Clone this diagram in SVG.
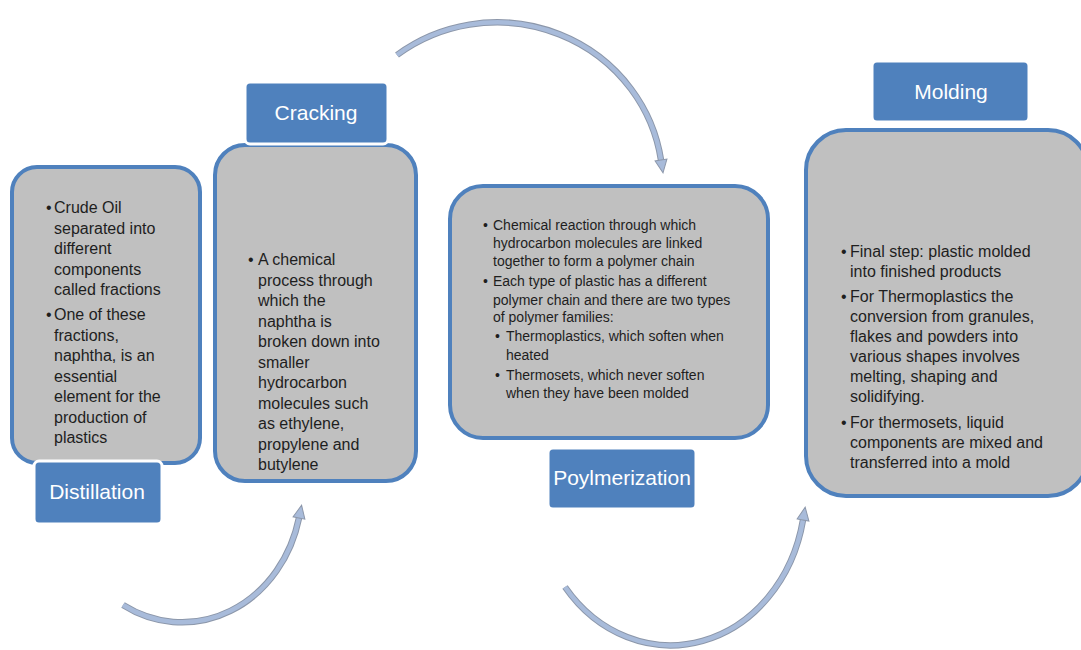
<svg xmlns="http://www.w3.org/2000/svg" width="1081" height="650" viewBox="0 0 1081 650">
<defs>
<style>
.body{fill:#C0C0C0;stroke:#4F81BD;stroke-width:4}
.lbl{fill:#4F81BD;stroke:#FFFFFF;stroke-width:3}
.lt{font-family:"Liberation Sans",Arial,sans-serif;font-size:21px;fill:#FFFFFF;text-anchor:middle}
.bt{font-family:"Liberation Sans",Arial,sans-serif;font-size:16px;fill:#1E1E1E}
.st{font-family:"Liberation Sans",Arial,sans-serif;font-size:14px;fill:#1E1E1E}
.aout{fill:none;stroke:#8C97AA;stroke-width:6.5}
.ain{fill:none;stroke:#A8BBDA;stroke-width:4.5}
</style>
<marker id="ah" markerUnits="userSpaceOnUse" markerWidth="16" markerHeight="16" refX="1" refY="7" orient="auto" viewBox="0 0 16 14">
<path d="M1,1 L14,7 L1,13 Z" fill="#A8BBDA" stroke="#8C97AA" stroke-width="1"/>
</marker>
</defs>
<rect width="1081" height="650" fill="#FFFFFF"/>

<g id="connectors">
<path class="aout" d="M123,605 A120,134 0 0 0 299,518"/>
<path class="ain" d="M123,605 A120,134 0 0 0 299,518" marker-end="url(#ah)"/>
<path class="aout" d="M397,55 A166,162 0 0 1 661,160"/>
<path class="ain" d="M397,55 A166,162 0 0 1 661,160" marker-end="url(#ah)"/>
<path class="aout" d="M565,587 A135,155 0 0 0 803,520"/>
<path class="ain" d="M565,587 A135,155 0 0 0 803,520" marker-end="url(#ah)"/>
</g>

<g id="distillation">
<rect class="body" x="12" y="167" width="188" height="296" rx="25"/>
<text class="bt" x="46" y="213">•</text>
<text class="bt" x="54" y="213">Crude Oil</text>
<text class="bt" x="54" y="233.5">separated into</text>
<text class="bt" x="54" y="254">different</text>
<text class="bt" x="54" y="274.5">components</text>
<text class="bt" x="54" y="295">called fractions</text>
<text class="bt" x="46" y="320">•</text>
<text class="bt" x="54" y="320">One of these</text>
<text class="bt" x="54" y="340.5">fractions,</text>
<text class="bt" x="54" y="361">naphtha, is an</text>
<text class="bt" x="54" y="381.5">essential</text>
<text class="bt" x="54" y="402">element for the</text>
<text class="bt" x="54" y="422.5">production of</text>
<text class="bt" x="54" y="443">plastics</text>
<rect class="lbl" x="34" y="461" width="128" height="63" rx="5"/>
<text class="lt" x="97" y="499">Distillation</text>
</g>

<g id="cracking">
<rect class="body" x="215" y="145" width="201" height="336" rx="30"/>
<text class="bt" x="248" y="265">•</text>
<text class="bt" x="258" y="265">A chemical</text>
<text class="bt" x="258" y="285.5">process through</text>
<text class="bt" x="258" y="306">which the</text>
<text class="bt" x="258" y="326.5">naphtha is</text>
<text class="bt" x="258" y="347">broken down into</text>
<text class="bt" x="258" y="367.5">smaller</text>
<text class="bt" x="258" y="388">hydrocarbon</text>
<text class="bt" x="258" y="408.5">molecules such</text>
<text class="bt" x="258" y="429">as ethylene,</text>
<text class="bt" x="258" y="449.5">propylene and</text>
<text class="bt" x="258" y="470">butylene</text>
<rect class="lbl" x="245" y="82" width="143" height="62" rx="5"/>
<text class="lt" x="316" y="120">Cracking</text>
</g>

<g id="polymerization">
<rect class="body" x="450" y="186" width="318" height="252" rx="33"/>
<text class="st" x="483" y="229.5">•</text>
<text class="st" x="493" y="229.5">Chemical reaction through which</text>
<text class="st" x="493" y="247.5">hydrocarbon molecules are linked</text>
<text class="st" x="493" y="266">together to form a polymer chain</text>
<text class="st" x="483" y="286">•</text>
<text class="st" x="493" y="286">Each type of plastic has a different</text>
<text class="st" x="493" y="304.5">polymer chain and there are two types</text>
<text class="st" x="493" y="322">of polymer families:</text>
<text class="st" x="495" y="341">•</text>
<text class="st" x="506" y="341">Thermoplastics, which soften when</text>
<text class="st" x="506" y="359.5">heated</text>
<text class="st" x="495" y="379.5">•</text>
<text class="st" x="506" y="379.5">Thermosets, which never soften</text>
<text class="st" x="506" y="397.5">when they have been molded</text>
<rect class="lbl" x="548" y="448" width="148" height="61" rx="5"/>
<text class="lt" x="622" y="485">Poylmerization</text>
</g>

<g id="molding">
<rect class="body" x="806" y="130" width="282" height="366" rx="40"/>
<text class="bt" x="841" y="257">•</text>
<text class="bt" x="850" y="257">Final step: plastic molded</text>
<text class="bt" x="850" y="277">into finished products</text>
<text class="bt" x="841" y="302">•</text>
<text class="bt" x="850" y="302">For Thermoplastics the</text>
<text class="bt" x="850" y="322">conversion from granules,</text>
<text class="bt" x="850" y="342">flakes and powders into</text>
<text class="bt" x="850" y="362">various shapes involves</text>
<text class="bt" x="850" y="382">melting, shaping and</text>
<text class="bt" x="850" y="402">solidifying.</text>
<text class="bt" x="841" y="428">•</text>
<text class="bt" x="850" y="428">For thermosets, liquid</text>
<text class="bt" x="850" y="448">components are mixed and</text>
<text class="bt" x="850" y="468">transferred into a mold</text>
<rect class="lbl" x="872" y="61" width="157" height="61" rx="5"/>
<text class="lt" x="951" y="99">Molding</text>
</g>
</svg>
